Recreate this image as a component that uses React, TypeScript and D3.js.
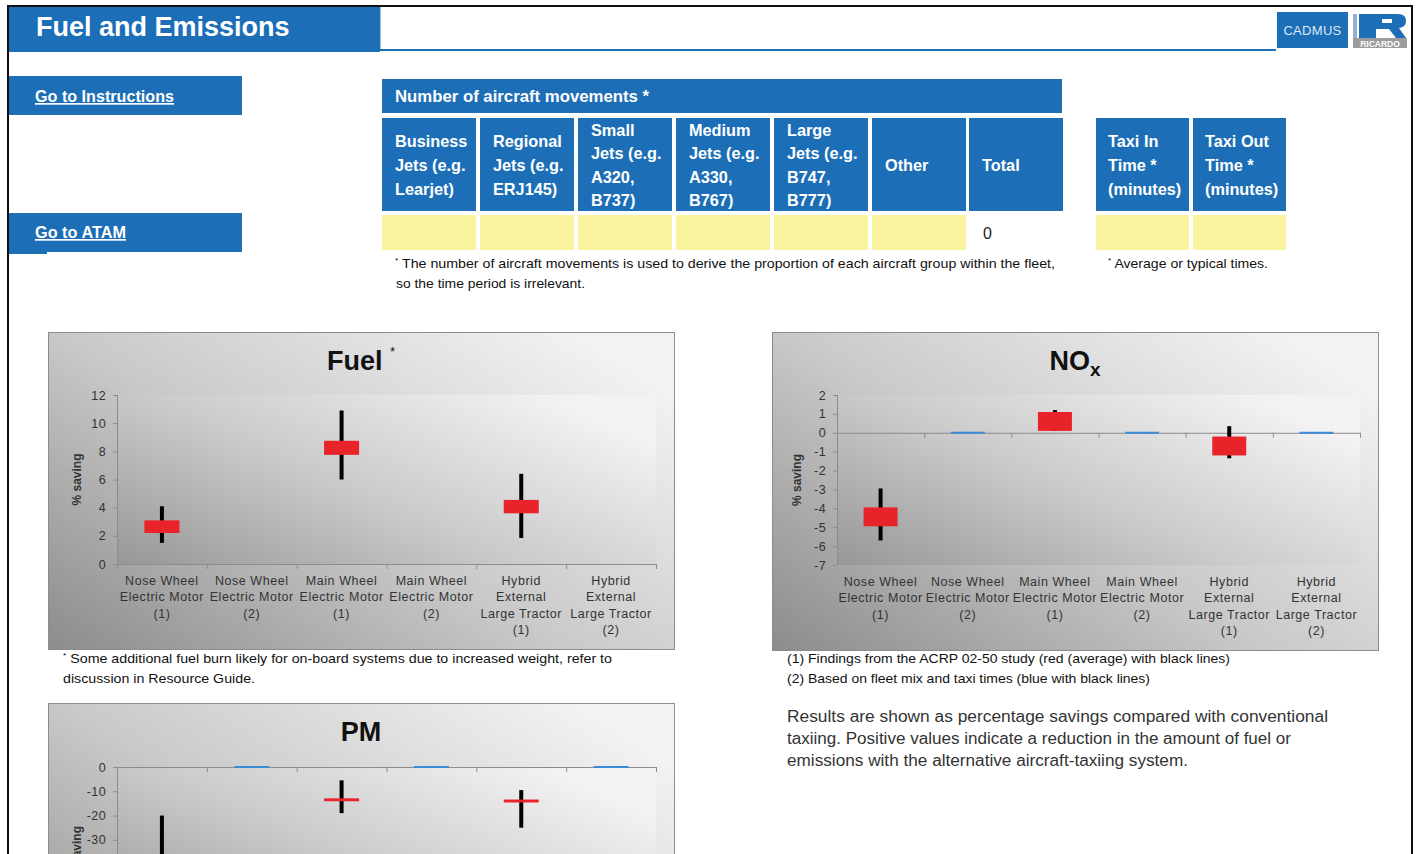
import React from "react";
import * as d3 from "d3";

// ---------- DATA ----------
const categoryLabels: string[][] = [
  ["Nose Wheel", "Electric Motor", "(1)"],
  ["Nose Wheel", "Electric Motor", "(2)"],
  ["Main Wheel", "Electric Motor", "(1)"],
  ["Main Wheel", "Electric Motor", "(2)"],
  ["Hybrid", "External", "Large Tractor", "(1)"],
  ["Hybrid", "External", "Large Tractor", "(2)"],
];

// Fuel (% saving): high-low lines and average box (open/close)
const fuelHigh = [4.1, null, 10.9, null, 6.4, null];
const fuelLow = [1.5, null, 6.0, null, 1.85, null];
const fuelOpen = [3.1, null, 8.75, null, 4.55, null];
const fuelClose = [2.2, null, 7.75, null, 3.6, null];
const fuelFleet: (number | null)[] = [null, null, null, null, null, null];
const fuelTicks = [0, 2, 4, 6, 8, 10, 12];

// NOx
const noxHigh = [-2.95, null, 1.2, null, 0.35, null];
const noxLow = [-5.7, null, 0.1, null, -1.35, null];
const noxOpen = [-3.95, null, 1.1, null, -0.2, null];
const noxClose = [-4.95, null, 0.1, null, -1.2, null];
const noxFleet = [null, 0, null, 0, null, 0];
const noxTicks = [-7, -6, -5, -4, -3, -2, -1, 0, 1, 2];

// PM
const pmHigh = [-20, null, -5.5, null, -9.5, null];
const pmLow = [-55, null, -19, null, -25, null];
const pmOpen = [-38.5, null, -12.9, null, -13.4, null];
const pmClose = [-39.7, null, -14.1, null, -14.6, null];
const pmFleet = [null, 0, null, 0, null, 0];
const pmTicks = [-70, -60, -50, -40, -30, -20, -10, 0];

// Table
const movementColumns: string[][] = [
  ["Business", "Jets (e.g.", "Learjet)"],
  ["Regional", "Jets (e.g.", "ERJ145)"],
  ["Small", "Jets (e.g.", "A320,", "B737)"],
  ["Medium", "Jets (e.g.", "A330,", "B767)"],
  ["Large", "Jets (e.g.", "B747,", "B777)"],
  ["Other"],
  ["Total"],
];
const taxiColumns: string[][] = [
  ["Taxi In", "Time *", "(minutes)"],
  ["Taxi Out", "Time *", "(minutes)"],
];
const totalMovements = 0;

// ---------- STYLE ----------
const BLUE = "#1c6eb7";
const YELLOW = "#faf3a0";
const RED = "#e8232a";
const FONT = "'Liberation Sans', Arial, sans-serif";
const NARROW = "'Liberation Sans Narrow', 'Liberation Sans', Arial, sans-serif";
const PAGE_H = 854;

type Num = number | null;
type ChartProps = {
  gid: string;
  bx: number; by: number; bw: number; bh: number;
  px: number; py: number; pw: number; ph: number;
  domain: [number, number];
  ticks: number[];
  title: React.ReactNode;
  high: Num[]; low: Num[]; open: Num[]; close: Num[]; fleet: Num[];
};

function Chart(p: ChartProps) {
  const x = d3
    .scaleBand<number>()
    .domain(d3.range(categoryLabels.length))
    .range([p.px, p.px + p.pw])
    .padding(0);
  const y = d3.scaleLinear().domain(p.domain).range([p.py + p.ph, p.py]);
  const zero = y(Math.max(p.domain[0], Math.min(p.domain[1], 0)));
  const boxW = x.bandwidth() * 0.39;
  const bounds = d3.range(categoryLabels.length + 1).map((i) => p.px + i * x.bandwidth());
  const bottom = p.py + p.ph;
  // texts lying wholly below the page are not drawn (they fall outside the window)
  const visible = (yy: number) => yy - 12 < PAGE_H;
  return (
    <g>
      <defs>
        <linearGradient id={p.gid + "bg"} x1="0" y1="1" x2="1" y2="0.2">
          <stop offset="0" stopColor="#8c8c8c" />
          <stop offset="0.5" stopColor="#c9c9c9" />
          <stop offset="1" stopColor="#f2f2f2" />
        </linearGradient>
        <linearGradient id={p.gid + "pl"} x1="0" y1="1" x2="1" y2="0.3">
          <stop offset="0" stopColor="#979797" />
          <stop offset="0.5" stopColor="#cacaca" />
          <stop offset="1" stopColor="#f2f2f2" />
        </linearGradient>
      </defs>
      <rect x={p.bx + 0.5} y={p.by + 0.5} width={p.bw} height={p.bh} fill={`url(#${p.gid}bg)`} stroke="#8c8c8c" />
      <rect x={p.px} y={p.py} width={p.pw} height={p.ph} fill={`url(#${p.gid}pl)`} />
      <text x={p.bx + p.bw / 2} y={p.by + 38} textAnchor="middle" fontFamily={FONT} fontWeight="bold" fontSize={27} fill="#111">
        {p.title}
      </text>
      {/* y axis */}
      <line x1={p.px + 0.5} x2={p.px + 0.5} y1={p.py} y2={bottom} stroke="#8c8c8c" />
      {p.ticks.map((t) => (
        <g key={t}>
          <line x1={p.px - 4} x2={p.px} y1={y(t) + 0.5} y2={y(t) + 0.5} stroke="#8c8c8c" />
          {visible(y(t) + 4.5) ? (
            <text x={p.px - 11} y={y(t) + 4.5} textAnchor="end" fontFamily={FONT} fontSize={12.5} letterSpacing={0.4} fill="#333">
              {String(t)}
            </text>
          ) : null}
        </g>
      ))}
      <text
        transform={`translate(${p.px - 36},${p.py + p.ph / 2}) rotate(-90)`}
        textAnchor="middle"
        fontFamily={FONT}
        fontWeight="bold"
        fontSize={12}
        fill="#333"
      >
        % saving
      </text>
      {/* x axis at zero */}
      <line x1={p.px} x2={p.px + p.pw} y1={zero + 0.5} y2={zero + 0.5} stroke="#8c8c8c" />
      {bounds.map((b, i) => (
        <line key={i} x1={b + 0.5} x2={b + 0.5} y1={zero} y2={zero + 5} stroke="#8c8c8c" />
      ))}
      {visible(bottom + 21)
        ? categoryLabels.map((lines, i) => (
            <text key={i} textAnchor="middle" fontFamily={FONT} fontSize={12.5} letterSpacing={0.55} fill="#333">
              {lines.map((l, j) => (
                <tspan key={j} x={(x(i) as number) + x.bandwidth() / 2} y={bottom + 21 + j * 16.4}>
                  {l}
                </tspan>
              ))}
            </text>
          ))
        : null}
      {/* fleet (2) lines */}
      {p.fleet.map((v, i) =>
        v === null ? null : (
          <line
            key={"f" + i}
            x1={(x(i) as number) + x.bandwidth() / 2 - boxW / 2}
            x2={(x(i) as number) + x.bandwidth() / 2 + boxW / 2}
            y1={y(v)}
            y2={y(v)}
            stroke="#3d8ad6"
            strokeWidth={2}
          />
        )
      )}
      {/* high-low */}
      {p.high.map((h, i) =>
        h === null || p.low[i] === null ? null : (
          <line
            key={"w" + i}
            x1={(x(i) as number) + x.bandwidth() / 2}
            x2={(x(i) as number) + x.bandwidth() / 2}
            y1={y(h)}
            y2={y(p.low[i] as number)}
            stroke="#000"
            strokeWidth={4}
          />
        )
      )}
      {/* average boxes */}
      {p.open.map((o, i) => {
        const c = p.close[i];
        if (o === null || c === null) return null;
        const top = y(Math.max(o, c));
        const bot = y(Math.min(o, c));
        return (
          <rect
            key={"b" + i}
            x={(x(i) as number) + x.bandwidth() / 2 - boxW / 2}
            y={top}
            width={boxW}
            height={bot - top}
            fill={RED}
          />
        );
      })}
    </g>
  );
}

function Note(props: { x: number; y: number; len: number; star?: boolean; size?: number; children: string }) {
  return (
    <text
      x={props.x}
      y={props.y}
      fontFamily={NARROW}
      fontSize={props.size ?? 13.5}
      fill="#111"
      textLength={props.len}
      lengthAdjust="spacingAndGlyphs"
    >
      {props.star ? (
        <>
          <tspan fontSize={8} dy={-5}>*</tspan>
          <tspan dy={5}> {props.children}</tspan>
        </>
      ) : (
        props.children
      )}
    </text>
  );
}

export default function App() {
  const colX = [382, 480, 578, 676, 774, 872, 969];
  const colW = 94;
  const taxiX = [1096, 1193];
  const headerCenter = 171;
  const lineH = 23.6;
  const cellText = (lines: string[], x0: number, key: string) => (
    <text key={key} fontFamily={FONT} fontWeight="bold" fontSize={16.3} fill="#fff">
      {lines.map((l, j) => (
        <tspan key={j} x={x0 + 13} y={headerCenter + (j - (lines.length - 1) / 2) * lineH}>
          {l}
        </tspan>
      ))}
    </text>
  );

  return (
    <svg
      width={1417}
      height={854}
      style={{ position: "absolute", left: 0, top: 0, background: "#fff" }}
      xmlns="http://www.w3.org/2000/svg"
    >
      <rect x={0} y={0} width={1417} height={854} fill="#fff" />
      {/* page frame */}
      <path d="M8,854 V6 H1412 V854" fill="none" stroke="#111" strokeWidth={2} />

      {/* header */}
      <rect x={9} y={7} width={371} height={45} fill={BLUE} />
      <text x={36} y={36} fontFamily={FONT} fontWeight="bold" fontSize={27} fill="#fff">
        Fuel and Emissions
      </text>
      <line x1={380.5} x2={380.5} y1={7} y2={51} stroke="#9dc3e6" />
      <line x1={380} x2={1276} y1={50} y2={50} stroke={BLUE} strokeWidth={2} />

      {/* CADMUS logo */}
      <rect x={1277} y={12} width={71} height={36} fill={BLUE} />
      <text x={1312.5} y={35} textAnchor="middle" fontFamily={FONT} fontSize={13} fill="#dde8f4" letterSpacing={0.3}>
        CADMUS
      </text>
      {/* Ricardo logo */}
      <rect x={1353} y={14} width={4} height={24} fill="#8fb0d6" />
      <rect x={1359} y={14} width={17} height={24} fill={BLUE} />
      <path d="M1376,14 H1398 Q1406,14 1406,21 Q1406,27 1399,28 L1406,38 H1396 L1389,29 H1376 Z" fill={BLUE} />
      <rect x={1382} y={19} width={10} height={4} fill="#fff" />
      <rect x={1353} y={38} width={54} height={10} fill="#9c9c9c" />
      <text x={1380} y={46.5} textAnchor="middle" fontFamily={FONT} fontWeight="bold" fontSize={8.5} fill="#fff">
        RICARDO
      </text>

      {/* nav buttons */}
      <rect x={9} y={76} width={233} height={39} fill={BLUE} />
      <text x={35} y={102} fontFamily={FONT} fontWeight="bold" fontSize={17} fill="#fff" textDecoration="underline" textLength={139} lengthAdjust="spacingAndGlyphs">
        Go to Instructions
      </text>
      <rect x={9} y={213} width={233} height={39} fill={BLUE} />
      <rect x={9} y={252} width={38} height={2} fill={BLUE} />
      <text x={35} y={238} fontFamily={FONT} fontWeight="bold" fontSize={17} fill="#fff" textDecoration="underline" textLength={91} lengthAdjust="spacingAndGlyphs">
        Go to ATAM
      </text>

      {/* movements table */}
      <rect x={382} y={79} width={680} height={34} fill={BLUE} />
      <text x={395} y={102} fontFamily={FONT} fontWeight="bold" fontSize={16.3} fill="#fff" textLength={254} lengthAdjust="spacingAndGlyphs">
        Number of aircraft movements *
      </text>
      {movementColumns.map((lines, i) => (
        <g key={"mc" + i}>
          <rect x={colX[i]} y={118} width={colW} height={93} fill={BLUE} />
          {cellText(lines, colX[i], "t" + i)}
          {i < movementColumns.length - 1 ? (
            <rect x={colX[i]} y={215} width={colW} height={35} fill={YELLOW} />
          ) : (
            <text x={colX[i] + 14} y={239} fontFamily={FONT} fontSize={16} fill="#222">
              {String(totalMovements)}
            </text>
          )}
        </g>
      ))}
      {taxiColumns.map((lines, i) => (
        <g key={"tc" + i}>
          <rect x={taxiX[i]} y={118} width={93} height={93} fill={BLUE} />
          {cellText(lines, taxiX[i] - 1, "x" + i)}
          <rect x={taxiX[i]} y={215} width={93} height={35} fill={YELLOW} />
        </g>
      ))}
      <Note x={395} y={268} len={660} star>
        The number of aircraft movements is used to derive the proportion of each aircraft group within the fleet,
      </Note>
      <Note x={396} y={288} len={189}>
        so the time period is irrelevant.
      </Note>
      <Note x={1108} y={268} len={160} star>
        Average or typical times.
      </Note>

      {/* charts */}
      <Chart
        gid="fuel"
        bx={48} by={332} bw={626} bh={317}
        px={117} py={395} pw={539} ph={169}
        domain={[0, 12]}
        ticks={fuelTicks}
        title={
          <>
            {"Fuel "}
            <tspan fontSize={13} fontWeight="normal" dy={-14}>*</tspan>
          </>
        }
        high={fuelHigh} low={fuelLow} open={fuelOpen} close={fuelClose} fleet={fuelFleet}
      />
      <Chart
        gid="nox"
        bx={772} by={332} bw={606} bh={318}
        px={837} py={395} pw={523} ph={170}
        domain={[-7, 2]}
        ticks={noxTicks}
        title={
          <>
            {"NO"}
            <tspan fontSize={19} dy={6}>x</tspan>
          </>
        }
        high={noxHigh} low={noxLow} open={noxOpen} close={noxClose} fleet={noxFleet}
      />
      <Chart
        gid="pm"
        bx={48} by={703} bw={626} bh={318}
        px={117} py={767} pw={539} ph={170}
        domain={[-70, 0]}
        ticks={pmTicks}
        title={"PM"}
        high={pmHigh} low={pmLow} open={pmOpen} close={pmClose} fleet={pmFleet}
      />

      {/* chart notes */}
      <Note x={63} y={663} len={549} star>
        Some additional fuel burn likely for on-board systems due to increased weight, refer to
      </Note>
      <Note x={63} y={683} len={192}>
        discussion in Resource Guide.
      </Note>
      <Note x={787} y={663} len={443}>
        (1) Findings from the ACRP 02-50 study (red (average) with black lines)
      </Note>
      <Note x={787} y={683} len={363}>
        (2) Based on fleet mix and taxi times (blue with black lines)
      </Note>
      <g fontFamily={FONT} fontSize={16} fill="#333">
        <text x={787} y={722} textLength={541} lengthAdjust="spacingAndGlyphs">
          Results are shown as percentage savings compared with conventional
        </text>
        <text x={787} y={744} textLength={504} lengthAdjust="spacingAndGlyphs">
          taxiing. Positive values indicate a reduction in the amount of fuel or
        </text>
        <text x={787} y={766} textLength={401} lengthAdjust="spacingAndGlyphs">
          emissions with the alternative aircraft-taxiing system.
        </text>
      </g>
    </svg>
  );
}
